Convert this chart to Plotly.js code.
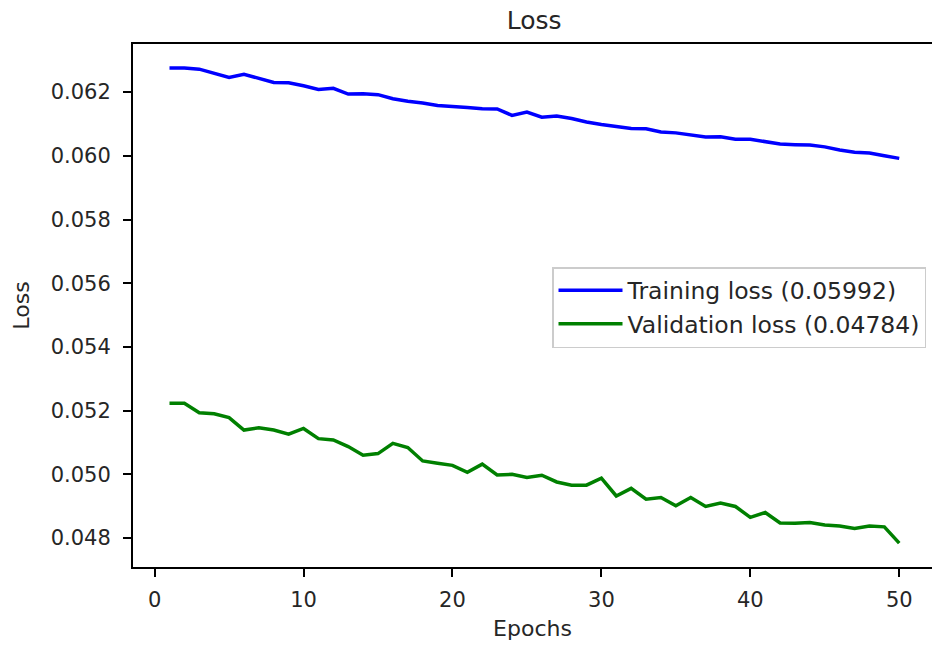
<!DOCTYPE html>
<html>
<head>
<meta charset="utf-8">
<script src="https://cdn.plot.ly/plotly-3.0.1.min.js"></script>
<style>
html, body { margin: 0; padding: 0; background: #ffffff; overflow: hidden; }
#chart { width: 932px; height: 648px; }
</style>
</head>
<body>
<div id="chart"></div>
<script>
const epochs = [1,2,3,4,5,6,7,8,9,10,11,12,13,14,15,16,17,18,19,20,21,22,23,24,25,
                26,27,28,29,30,31,32,33,34,35,36,37,38,39,40,41,42,43,44,45,46,47,48,49,50];

const trainingLoss = [
  0.06276, 0.06276, 0.06272, 0.06260, 0.06246, 0.06256, 0.06244, 0.06230, 0.06229, 0.06220,
  0.06208, 0.06212, 0.06194, 0.06195, 0.06192, 0.06179, 0.06171, 0.06166, 0.06158, 0.06156,
  0.06152, 0.06148, 0.06147, 0.06127, 0.06137, 0.06121, 0.06125, 0.06117, 0.06106, 0.06098,
  0.06092, 0.06086, 0.06085, 0.06075, 0.06072, 0.06065, 0.06059, 0.06060, 0.06052, 0.06052,
  0.06045, 0.06037, 0.06035, 0.06034, 0.06028, 0.06018, 0.06011, 0.06009, 0.06000, 0.05992
];

const validationLoss = [
  0.05223, 0.05223, 0.05193, 0.05190, 0.05178, 0.05139, 0.05146, 0.05139, 0.05126, 0.05144,
  0.05112, 0.05108, 0.05087, 0.05060, 0.05065, 0.05097, 0.05084, 0.05042, 0.05035, 0.05028,
  0.05006, 0.05032, 0.04998, 0.05000, 0.04990, 0.04997, 0.04976, 0.04966, 0.04966, 0.04988,
  0.04932, 0.04956, 0.04922, 0.04927, 0.04901, 0.04927, 0.04899, 0.04910, 0.04899, 0.04865,
  0.04880, 0.04847, 0.04846, 0.04849, 0.04841, 0.04838, 0.04830, 0.04838, 0.04835, 0.04784
];

const seriesNames = ["Training loss (0.05992)", "Validation loss (0.04784)"];
const yTickVals = [0.048, 0.050, 0.052, 0.054, 0.056, 0.058, 0.060, 0.062];
const xTickVals = [0, 10, 20, 30, 40, 50];

const font = "DejaVu Sans, Liberation Sans, sans-serif";
const textColor = "#262626";

const traces = [
  {
    x: epochs, y: trainingLoss, name: seriesNames[0],
    type: "scatter", mode: "lines",
    line: { color: "#0000ff", width: 3.5 }
  },
  {
    x: epochs, y: validationLoss, name: seriesNames[1],
    type: "scatter", mode: "lines",
    line: { color: "#008000", width: 3.5 }
  }
];

const axisCommon = {
  showgrid: false,
  zeroline: false,
  showline: true,
  linecolor: "#000000",
  linewidth: 2,
  ticks: "outside",
  ticklen: 8,
  tickwidth: 2,
  tickcolor: "#000000",
  tickfont: { family: font, size: 21, color: textColor },
  ticklabelstandoff: 8
};

const layout = {
  width: 932,
  height: 648,
  paper_bgcolor: "#ffffff",
  plot_bgcolor: "#ffffff",
  margin: { l: 133, r: 0, t: 44, b: 81, pad: 0 },
  showlegend: true,
  title: {
    text: "Loss",
    font: { family: font, size: 25, color: textColor },
    x: 0.502, xref: "paper", xanchor: "center",
    y: 1 - 20 / 648, yref: "container", yanchor: "middle"
  },
  xaxis: Object.assign({}, axisCommon, {
    range: [-1.45, 52.2],
    tickmode: "array",
    tickvals: xTickVals,
    ticktext: xTickVals.map(String),
    mirror: true,
    ticklabelstandoff: 5,
    title: { text: "Epochs", font: { family: font, size: 22, color: textColor }, standoff: 9 }
  }),
  yaxis: Object.assign({}, axisCommon, {
    range: [0.04709, 0.06351],
    tickmode: "array",
    tickvals: yTickVals,
    ticktext: yTickVals.map(v => v.toFixed(3)),
    mirror: false,
    title: { text: "Loss", font: { family: font, size: 22, color: textColor }, standoff: 15 }
  }),
  legend: {
    x: 0.9925, xanchor: "right", xref: "paper",
    y: 0.5736, yanchor: "top", yref: "paper",
    bgcolor: "rgba(255,255,255,0.8)",
    bordercolor: "#cccccc",
    borderwidth: 1.5,
    itemwidth: 64,
    font: { family: font, size: 23.5, color: textColor },
    tracegroupgap: 0
  }
};

Plotly.newPlot("chart", traces, layout, { displayModeBar: false, staticPlot: true });
</script>
</body>
</html>
